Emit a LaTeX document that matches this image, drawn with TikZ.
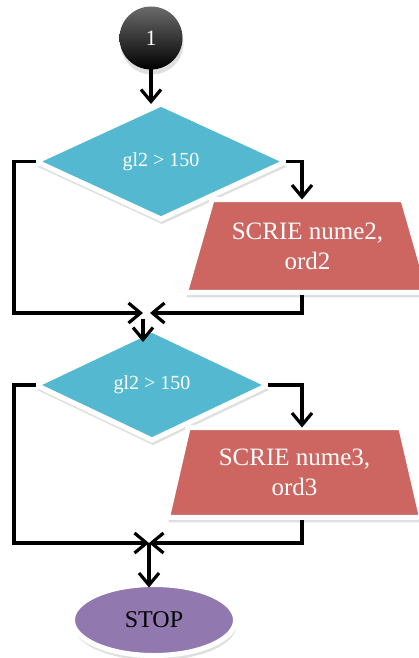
\documentclass[tikz,border=0pt]{standalone}
\usepackage{fontspec}
\setmainfont{Liberation Serif}
\usetikzlibrary{positioning,arrows.meta,shapes.geometric,shadows}

\definecolor{decblue}{RGB}{84,185,208}
\definecolor{outred}{RGB}{205,102,97}
\definecolor{stoppurple}{RGB}{145,120,175}

\begin{document}
\begin{tikzpicture}[
	x=1pt, y=1pt,
	outer sep=0pt,
	softshadow/.style={
		drop shadow={shadow xshift=1pt, shadow yshift=-5pt, opacity=0.25},
	},
	connector/.style={
		circle,
		minimum size=63pt,
		top color=black!58,
		bottom color=black,
		text=white,
		font=\fontsize{22}{26}\selectfont,
		softshadow,
	},
	decision/.style={
		diamond,
		draw=white,
		line width=5pt,
		fill=decblue,
		inner sep=0pt,
		text=white,
		font=\fontsize{20}{24}\selectfont,
		softshadow,
	},
	output/.style={
		trapezium,
		trapezium stretches body,
		draw=white,
		line width=5pt,
		fill=outred,
		inner xsep=0pt,
		align=center,
		text=white,
		font=\fontsize{25}{30}\selectfont,
		softshadow,
	},
	terminal/.style={
		ellipse,
		draw=white,
		line width=5pt,
		fill=stoppurple,
		minimum width=163pt,
		minimum height=71pt,
		font=\fontsize{24}{28}\selectfont,
		softshadow,
	},
	arr/.style={-{Straight Barb[length=12pt,width=20pt,line width=3.2pt]}, line width=3.2pt},
]

\useasboundingbox (0,0) rectangle (419,-658);

% --- Hlavni sir ---
\node[connector] (start) at (151,-38) {1};

\node[decision, minimum width=250pt, minimum height=115pt,
	below=34.5pt of start, xshift=10pt] (d1) {gl2 > 150};

\node[output, minimum width=244pt, inner ysep=23pt,
	trapezium left angle=74, trapezium right angle=74,
	below=38pt of d1.east, xshift=21.5pt] (t1) {SCRIE nume2,\\ord2};

\node[decision, minimum width=232pt, minimum height=110pt,
	below=111pt of d1, xshift=-9pt] (d2) {gl2 > 150};

\node[output, minimum width=254pt, inner ysep=21.5pt,
	trapezium left angle=77, trapezium right angle=77,
	below=42.5pt of d2.east, xshift=26.5pt] (t2) {SCRIE nume3,\\ord3};

\node[terminal, below=144.5pt of d2, xshift=2pt] (stop) {STOP};

% --- Kolejnice a body spojeni ---
\coordinate (lrail) at (14,0);
\coordinate (rrail) at (302,0);
\coordinate (m1) at (143,-313);
\coordinate (m2) at (149,-543);

% --- Sipky ---
\draw[arr] (start.south) -- (start.south |- d1.north);

\draw[arr] (d1.west) -| (lrail |- m1) -- (m1);
\draw[arr] (d1.east) -| (rrail |- t1.north);
\draw[arr, shorten <=3pt] (t1.south -| rrail) |- ([xshift=7pt]m1);
\draw[arr, shorten <=6pt, shorten >=-12pt] (m1) -- (m1 |- d2.north);

\draw[arr] (d2.west) -| (lrail |- m2) -- (m2);
\draw[arr] (d2.east) -| (rrail |- t2.north);
\draw[arr, shorten <=3pt] (t2.south -| rrail) |- (m2);
\draw[arr, shorten >=-3pt] (m2) -- (m2 |- stop.north);

\end{tikzpicture}
\end{document}
